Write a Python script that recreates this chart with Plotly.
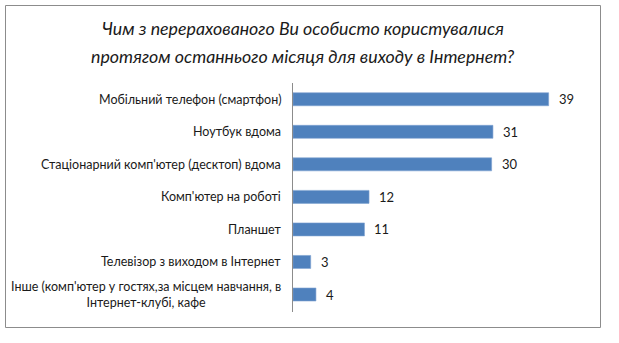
import plotly.graph_objects as go

categories = [
    "Мобільний телефон (смартфон)",
    "Ноутбук вдома",
    "Стаціонарний комп'ютер (десктоп) вдома",
    "Комп'ютер на роботі",
    "Планшет",
    "Телевізор з виходом в Інтернет",
    "Інше (комп'ютер у гостях,за місцем навчання, в<br>Інтернет-клубі, кафе",
]
values = [39.0, 30.5, 30.3, 11.6, 10.9, 2.7, 3.5]
value_labels = ["39", "31", "30", "12", "11", "3", "4"]
title_lines = [
    "Чим з перерахованого Ви особисто користувалися",
    "протягом останнього місяця для виходу в Інтернет?",
]

FONT = "Lato"
W, H = 619, 343
L, R, T, B = 293, 31, 83, 31
pw = W - L - R
ph = H - T - B

fig = go.Figure()
fig.add_trace(go.Bar(
    x=values, y=categories, orientation="h",
    marker=dict(color="#4F81BD", line=dict(color="#7FA3D1", width=0.6)),
    width=0.4, hoverinfo="skip",
))

# category labels (centered multi-line like the original)
for c in categories:
    fig.add_annotation(
        x=0, xref="paper", y=c, yref="y", text=c, showarrow=False,
        xanchor="right", yanchor="middle", align="center", xshift=-10,
        font=dict(family=FONT, size=12.5, color="#1a1a1a"),
    )
# value labels
for c, v, t in zip(categories, values, value_labels):
    fig.add_annotation(
        x=v, xref="x", y=c, yref="y", text=t, showarrow=False,
        xanchor="left", yanchor="middle", xshift=8,
        font=dict(family=FONT, size=13, color="#1a1a1a"),
    )

# title lines
def px_x(px):
    return (px - L) / pw

def px_y(py):
    return (H - B - py) / ph

for line, yc in zip(title_lines, [28, 56]):
    fig.add_annotation(
        x=px_x(303), xref="paper", y=px_y(yc), yref="paper",
        text="<i>" + line + "</i>", showarrow=False,
        xanchor="center", yanchor="middle",
        font=dict(family=FONT, size=17.8, color="#1a1a1a"),
    )

# outer chart border
fig.add_shape(
    type="rect", xref="paper", yref="paper",
    x0=px_x(5.5), x1=px_x(600.5), y0=px_y(327.5), y1=px_y(5.5),
    line=dict(color="#8c8c8c", width=1), fillcolor="rgba(0,0,0,0)", layer="below",
)

fig.update_layout(
    width=W, height=H,
    margin=dict(l=L, r=R, t=T, b=B),
    paper_bgcolor="white", plot_bgcolor="white",
    showlegend=False, bargap=0.6,
    xaxis=dict(range=[0, 45], visible=False, fixedrange=True),
    yaxis=dict(autorange="reversed", showticklabels=False, ticks="",
               showline=True, linecolor="#8c8c8c", linewidth=1,
               showgrid=False, zeroline=False, fixedrange=True),
)

fig.write_html("out.html", config={"displayModeBar": False})
